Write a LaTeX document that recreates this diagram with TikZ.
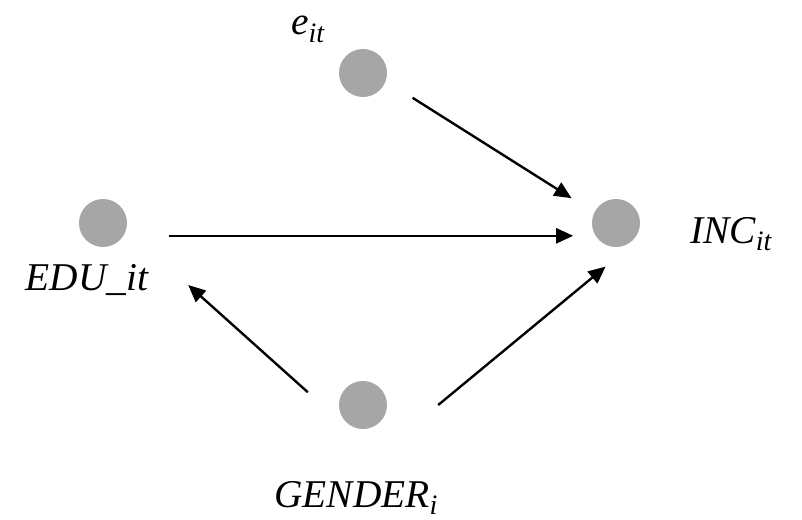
\documentclass[tikz,border=0pt]{standalone}
\usepackage{fontspec}
\setmainfont{Liberation Serif}
\usetikzlibrary{arrows.meta,positioning}
\definecolor{dotgray}{RGB}{166,166,166}
\definecolor{ink}{RGB}{0,0,0}
\newcommand\lsub[1]{\raisebox{-0.2em}{\fontsize{20}{20}\selectfont\textit{#1}}}
\tikzset{
  >={Triangle[length=4.3mm,width=3.8mm]},
  dot/.style={circle,fill=dotgray,minimum size=1.2cm,inner sep=0pt},
  lab/.style={font=\fontsize{28}{32}\selectfont\itshape,text=ink,inner sep=0pt},
  link/.style={->,line width=1.7pt,draw=ink},
}
\begin{document}
\begin{tikzpicture}
  \useasboundingbox (0,0) rectangle (20.05,12.975);
  % variables
  \node[dot] (e) at (9.075,11.15) {};
  \node[dot] (edu) at (2.575,7.4) {};
  \node[dot] (inc) at (15.4,7.4) {};
  \node[dot] (gen) at (9.075,2.85) {};
  % labels
  \node[lab,anchor=base] (elab) at (7.69,12.1) {e\lsub{it}};
  \node[lab,anchor=base] (edulab) at (2.175,5.725) {EDU\_it};
  \node[lab,anchor=base west] (inclab) at (17.25,6.9) {INC\lsub{it}};
  \node[lab,anchor=base] (genlab) at (8.9,0.3) {GENDER\lsub{i}};
  % effects
  \draw[link] ([shift={(1.24,-0.62)}]e.center) -- ([shift={(-1.11,0.62)}]inc.center);
  \draw[link] ([shift={(1.66,-0.32)}]edu.center) -- ([shift={(-1.07,-0.32)}]inc.center);
  \draw[link] ([shift={(-1.38,0.32)}]gen.center) -- ([shift={(2.13,-1.55)}]edu.center);
  \draw[link] ([shift={(1.88,0)}]gen.center) -- ([shift={(-0.26,-1.09)}]inc.center);
\end{tikzpicture}
\end{document}
